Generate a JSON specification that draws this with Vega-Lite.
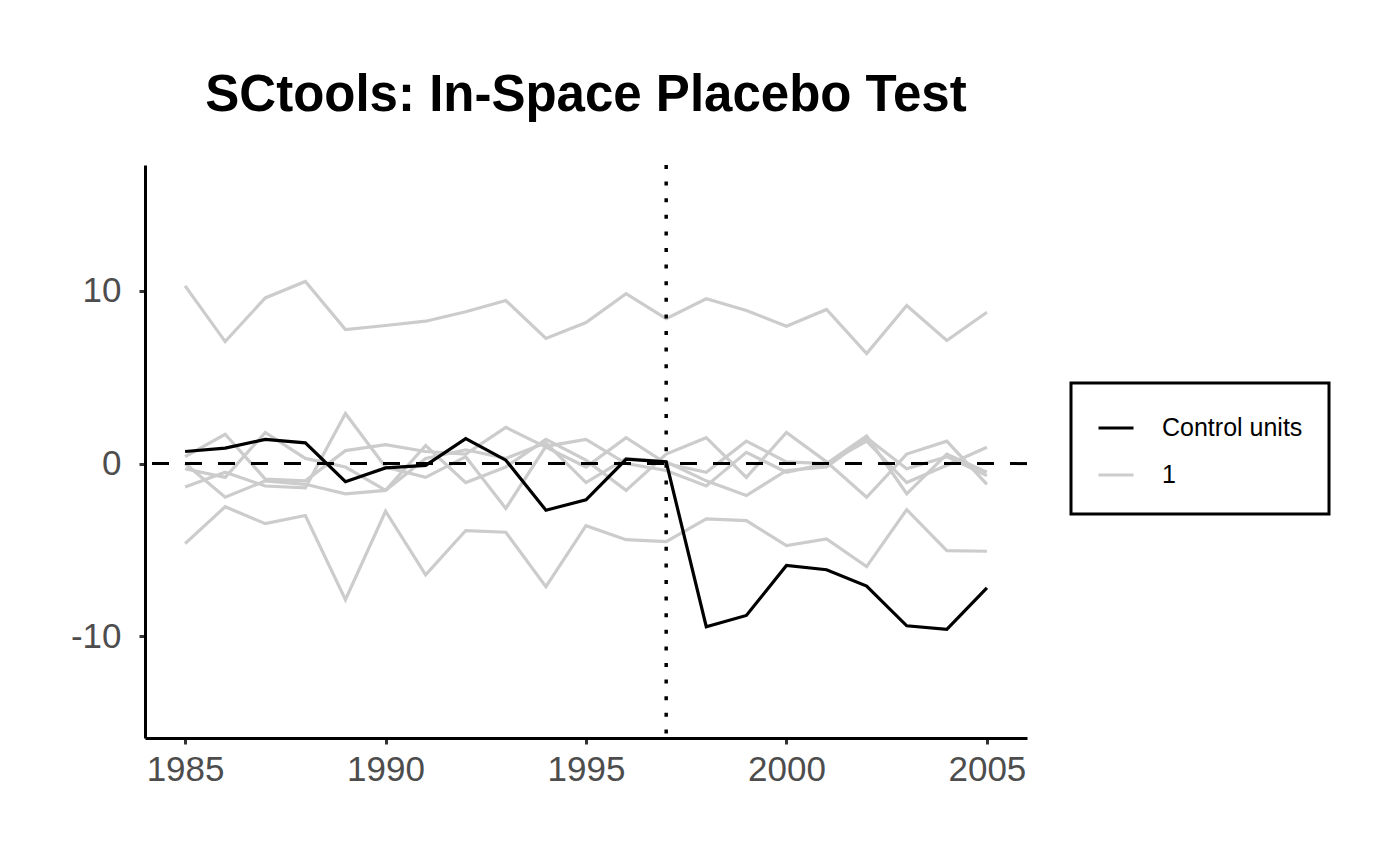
{
  "$schema": "https://vega.github.io/schema/vega-lite/v6.json",
  "width": 882,
  "height": 573,
  "autosize": {"type": "none"},
  "padding": {"left": 145, "top": 165, "right": 373, "bottom": 127},
  "background": "white",
  "title": {"text": "SCtools: In-Space Placebo Test", "font": "Liberation Sans", "fontSize": 51, "fontWeight": "bold", "color": "black", "anchor": "middle", "frame": "group", "baseline": "alphabetic", "offset": 1},
  "config": {
    "view": {"stroke": null},
    "axis": {"grid": false, "domainColor": "black", "domainWidth": 3, "tickColor": "#333333", "tickWidth": 3, "tickSize": 6, "labelColor": "#4D4D4D", "labelFont": "Liberation Sans", "labelFontSize": 35, "title": null}
  },
  "datasets": {
    "series": [
      {"unit": "treated", "group": "Control units", "year": 1985, "value": 0.7},
      {"unit": "treated", "group": "Control units", "year": 1986, "value": 0.9},
      {"unit": "treated", "group": "Control units", "year": 1987, "value": 1.4},
      {"unit": "treated", "group": "Control units", "year": 1988, "value": 1.2},
      {"unit": "treated", "group": "Control units", "year": 1989, "value": -1.05},
      {"unit": "treated", "group": "Control units", "year": 1990, "value": -0.25},
      {"unit": "treated", "group": "Control units", "year": 1991, "value": -0.1},
      {"unit": "treated", "group": "Control units", "year": 1992, "value": 1.45},
      {"unit": "treated", "group": "Control units", "year": 1993, "value": 0.2},
      {"unit": "treated", "group": "Control units", "year": 1994, "value": -2.7},
      {"unit": "treated", "group": "Control units", "year": 1995, "value": -2.1},
      {"unit": "treated", "group": "Control units", "year": 1996, "value": 0.25},
      {"unit": "treated", "group": "Control units", "year": 1997, "value": 0.1},
      {"unit": "treated", "group": "Control units", "year": 1998, "value": -9.45},
      {"unit": "treated", "group": "Control units", "year": 1999, "value": -8.8},
      {"unit": "treated", "group": "Control units", "year": 2000, "value": -5.9},
      {"unit": "treated", "group": "Control units", "year": 2001, "value": -6.15},
      {"unit": "treated", "group": "Control units", "year": 2002, "value": -7.1},
      {"unit": "treated", "group": "Control units", "year": 2003, "value": -9.4},
      {"unit": "treated", "group": "Control units", "year": 2004, "value": -9.6},
      {"unit": "treated", "group": "Control units", "year": 2005, "value": -7.2},

      {"unit": "top", "group": "1", "year": 1985, "value": 10.3},
      {"unit": "top", "group": "1", "year": 1986, "value": 7.07},
      {"unit": "top", "group": "1", "year": 1987, "value": 9.6},
      {"unit": "top", "group": "1", "year": 1988, "value": 10.55},
      {"unit": "top", "group": "1", "year": 1989, "value": 7.77},
      {"unit": "top", "group": "1", "year": 1990, "value": 8.0},
      {"unit": "top", "group": "1", "year": 1991, "value": 8.25},
      {"unit": "top", "group": "1", "year": 1992, "value": 8.8},
      {"unit": "top", "group": "1", "year": 1993, "value": 9.45},
      {"unit": "top", "group": "1", "year": 1994, "value": 7.25},
      {"unit": "top", "group": "1", "year": 1995, "value": 8.17},
      {"unit": "top", "group": "1", "year": 1996, "value": 9.85},
      {"unit": "top", "group": "1", "year": 1997, "value": 8.4},
      {"unit": "top", "group": "1", "year": 1998, "value": 9.55},
      {"unit": "top", "group": "1", "year": 1999, "value": 8.87},
      {"unit": "top", "group": "1", "year": 2000, "value": 7.96},
      {"unit": "top", "group": "1", "year": 2001, "value": 8.93},
      {"unit": "top", "group": "1", "year": 2002, "value": 6.37},
      {"unit": "top", "group": "1", "year": 2003, "value": 9.16},
      {"unit": "top", "group": "1", "year": 2004, "value": 7.13},
      {"unit": "top", "group": "1", "year": 2005, "value": 8.77},

      {"unit": "bottom", "group": "1", "year": 1985, "value": -4.64},
      {"unit": "bottom", "group": "1", "year": 1986, "value": -2.5},
      {"unit": "bottom", "group": "1", "year": 1987, "value": -3.48},
      {"unit": "bottom", "group": "1", "year": 1988, "value": -3.01},
      {"unit": "bottom", "group": "1", "year": 1989, "value": -7.88},
      {"unit": "bottom", "group": "1", "year": 1990, "value": -2.76},
      {"unit": "bottom", "group": "1", "year": 1991, "value": -6.45},
      {"unit": "bottom", "group": "1", "year": 1992, "value": -3.88},
      {"unit": "bottom", "group": "1", "year": 1993, "value": -3.98},
      {"unit": "bottom", "group": "1", "year": 1994, "value": -7.13},
      {"unit": "bottom", "group": "1", "year": 1995, "value": -3.6},
      {"unit": "bottom", "group": "1", "year": 1996, "value": -4.41},
      {"unit": "bottom", "group": "1", "year": 1997, "value": -4.52},
      {"unit": "bottom", "group": "1", "year": 1998, "value": -3.2},
      {"unit": "bottom", "group": "1", "year": 1999, "value": -3.3},
      {"unit": "bottom", "group": "1", "year": 2000, "value": -4.75},
      {"unit": "bottom", "group": "1", "year": 2001, "value": -4.36},
      {"unit": "bottom", "group": "1", "year": 2002, "value": -5.97},
      {"unit": "bottom", "group": "1", "year": 2003, "value": -2.67},
      {"unit": "bottom", "group": "1", "year": 2004, "value": -5.04},
      {"unit": "bottom", "group": "1", "year": 2005, "value": -5.08},

      {"unit": "m1", "group": "1", "year": 1985, "value": 0.4},
      {"unit": "m1", "group": "1", "year": 1986, "value": 1.7},
      {"unit": "m1", "group": "1", "year": 1987, "value": -0.9},
      {"unit": "m1", "group": "1", "year": 1988, "value": -1.0},
      {"unit": "m1", "group": "1", "year": 1989, "value": 0.75},
      {"unit": "m1", "group": "1", "year": 1990, "value": 1.1},
      {"unit": "m1", "group": "1", "year": 1991, "value": 0.7},
      {"unit": "m1", "group": "1", "year": 1992, "value": 0.55},
      {"unit": "m1", "group": "1", "year": 1993, "value": 2.1},
      {"unit": "m1", "group": "1", "year": 1994, "value": 0.95},
      {"unit": "m1", "group": "1", "year": 1995, "value": -0.2},
      {"unit": "m1", "group": "1", "year": 1996, "value": 1.5},
      {"unit": "m1", "group": "1", "year": 1997, "value": 0.0},
      {"unit": "m1", "group": "1", "year": 1998, "value": -0.5},
      {"unit": "m1", "group": "1", "year": 1999, "value": 1.3},
      {"unit": "m1", "group": "1", "year": 2000, "value": 0.1},
      {"unit": "m1", "group": "1", "year": 2001, "value": 0.0},
      {"unit": "m1", "group": "1", "year": 2002, "value": 1.6},
      {"unit": "m1", "group": "1", "year": 2003, "value": -1.75},
      {"unit": "m1", "group": "1", "year": 2004, "value": 0.55},
      {"unit": "m1", "group": "1", "year": 2005, "value": -0.5},

      {"unit": "m2", "group": "1", "year": 1985, "value": -0.3},
      {"unit": "m2", "group": "1", "year": 1986, "value": -0.8},
      {"unit": "m2", "group": "1", "year": 1987, "value": 1.8},
      {"unit": "m2", "group": "1", "year": 1988, "value": 0.3},
      {"unit": "m2", "group": "1", "year": 1989, "value": -0.2},
      {"unit": "m2", "group": "1", "year": 1990, "value": -1.55},
      {"unit": "m2", "group": "1", "year": 1991, "value": 1.05},
      {"unit": "m2", "group": "1", "year": 1992, "value": -1.1},
      {"unit": "m2", "group": "1", "year": 1993, "value": -0.2},
      {"unit": "m2", "group": "1", "year": 1994, "value": 1.4},
      {"unit": "m2", "group": "1", "year": 1995, "value": 0.2},
      {"unit": "m2", "group": "1", "year": 1996, "value": -1.55},
      {"unit": "m2", "group": "1", "year": 1997, "value": 0.55},
      {"unit": "m2", "group": "1", "year": 1998, "value": 1.5},
      {"unit": "m2", "group": "1", "year": 1999, "value": -0.8},
      {"unit": "m2", "group": "1", "year": 2000, "value": 1.8},
      {"unit": "m2", "group": "1", "year": 2001, "value": 0.1},
      {"unit": "m2", "group": "1", "year": 2002, "value": -1.95},
      {"unit": "m2", "group": "1", "year": 2003, "value": 0.55},
      {"unit": "m2", "group": "1", "year": 2004, "value": 1.3},
      {"unit": "m2", "group": "1", "year": 2005, "value": -1.2},

      {"unit": "m3", "group": "1", "year": 1985, "value": -1.35},
      {"unit": "m3", "group": "1", "year": 1986, "value": -0.5},
      {"unit": "m3", "group": "1", "year": 1987, "value": -1.3},
      {"unit": "m3", "group": "1", "year": 1988, "value": -1.4},
      {"unit": "m3", "group": "1", "year": 1989, "value": 2.9},
      {"unit": "m3", "group": "1", "year": 1990, "value": -0.2},
      {"unit": "m3", "group": "1", "year": 1991, "value": -0.8},
      {"unit": "m3", "group": "1", "year": 1992, "value": 0.4},
      {"unit": "m3", "group": "1", "year": 1993, "value": -2.6},
      {"unit": "m3", "group": "1", "year": 1994, "value": 1.0},
      {"unit": "m3", "group": "1", "year": 1995, "value": 1.4},
      {"unit": "m3", "group": "1", "year": 1996, "value": 0.0},
      {"unit": "m3", "group": "1", "year": 1997, "value": -0.4},
      {"unit": "m3", "group": "1", "year": 1998, "value": -1.3},
      {"unit": "m3", "group": "1", "year": 1999, "value": 0.65},
      {"unit": "m3", "group": "1", "year": 2000, "value": -0.5},
      {"unit": "m3", "group": "1", "year": 2001, "value": 0.0},
      {"unit": "m3", "group": "1", "year": 2002, "value": 1.3},
      {"unit": "m3", "group": "1", "year": 2003, "value": -1.1},
      {"unit": "m3", "group": "1", "year": 2004, "value": -0.1},
      {"unit": "m3", "group": "1", "year": 2005, "value": 0.95},

      {"unit": "m4", "group": "1", "year": 1985, "value": 0.0},
      {"unit": "m4", "group": "1", "year": 1986, "value": -1.95},
      {"unit": "m4", "group": "1", "year": 1987, "value": -1.0},
      {"unit": "m4", "group": "1", "year": 1988, "value": -1.2},
      {"unit": "m4", "group": "1", "year": 1989, "value": -1.75},
      {"unit": "m4", "group": "1", "year": 1990, "value": -1.55},
      {"unit": "m4", "group": "1", "year": 1991, "value": 0.3},
      {"unit": "m4", "group": "1", "year": 1992, "value": 0.8},
      {"unit": "m4", "group": "1", "year": 1993, "value": 0.3},
      {"unit": "m4", "group": "1", "year": 1994, "value": 1.2},
      {"unit": "m4", "group": "1", "year": 1995, "value": -1.1},
      {"unit": "m4", "group": "1", "year": 1996, "value": 0.3},
      {"unit": "m4", "group": "1", "year": 1997, "value": 0.1},
      {"unit": "m4", "group": "1", "year": 1998, "value": -1.0},
      {"unit": "m4", "group": "1", "year": 1999, "value": -1.85},
      {"unit": "m4", "group": "1", "year": 2000, "value": -0.4},
      {"unit": "m4", "group": "1", "year": 2001, "value": -0.2},
      {"unit": "m4", "group": "1", "year": 2002, "value": 1.5},
      {"unit": "m4", "group": "1", "year": 2003, "value": -0.3},
      {"unit": "m4", "group": "1", "year": 2004, "value": 0.4},
      {"unit": "m4", "group": "1", "year": 2005, "value": -0.7}
    ]
  },
  "layer": [
    {
      "data": {"name": "series"},
      "transform": [{"filter": "datum.group == '1'"}],
      "mark": {"type": "line", "strokeWidth": 3.2},
      "encoding": {
        "x": {"field": "year", "type": "quantitative", "scale": {"domain": [1984, 2006], "nice": false, "zero": false}, "axis": {"values": [1985, 1990, 1995, 2000, 2005], "format": "d", "labelPadding": 8}},
        "y": {"field": "value", "type": "quantitative", "scale": {"domain": [-15.9, 17.3], "nice": false, "zero": false}, "axis": {"values": [-10, 0, 10], "labelExpr": "toString(datum.value)", "labelPadding": 18}},
        "color": {"field": "group", "type": "nominal", "scale": {"domain": ["Control units", "1"], "range": ["black", "#CCCCCC"]}, "legend": {"orient": "none", "legendX": 926, "legendY": 218, "title": null, "symbolType": "stroke", "symbolSize": 1225, "symbolStrokeWidth": 3, "labelFont": "Liberation Sans", "labelFontSize": 25, "labelColor": "black", "labelOffset": 27, "rowPadding": 15, "padding": 26, "strokeColor": "black", "fillColor": "white", "cornerRadius": 0, "encode": {"legend": {"update": {"strokeWidth": {"value": 3}}}}}},
        "detail": {"field": "unit"}
      }
    },
    {
      "data": {"name": "series"},
      "transform": [{"filter": "datum.group == 'Control units'"}],
      "mark": {"type": "line", "strokeWidth": 3.2},
      "encoding": {
        "x": {"field": "year", "type": "quantitative"},
        "y": {"field": "value", "type": "quantitative"},
        "color": {"field": "group", "type": "nominal"},
        "detail": {"field": "unit"}
      }
    },
    {
      "data": {"values": [{"value": 0}]},
      "mark": {"type": "rule", "color": "black", "strokeWidth": 3, "strokeDash": [17, 16]},
      "encoding": {"y": {"field": "value", "type": "quantitative"}}
    },
    {
      "data": {"values": [{"year": 1997}]},
      "mark": {"type": "rule", "color": "black", "strokeWidth": 3.5, "strokeDash": [4, 12.6]},
      "encoding": {"x": {"field": "year", "type": "quantitative"}}
    }
  ]
}
